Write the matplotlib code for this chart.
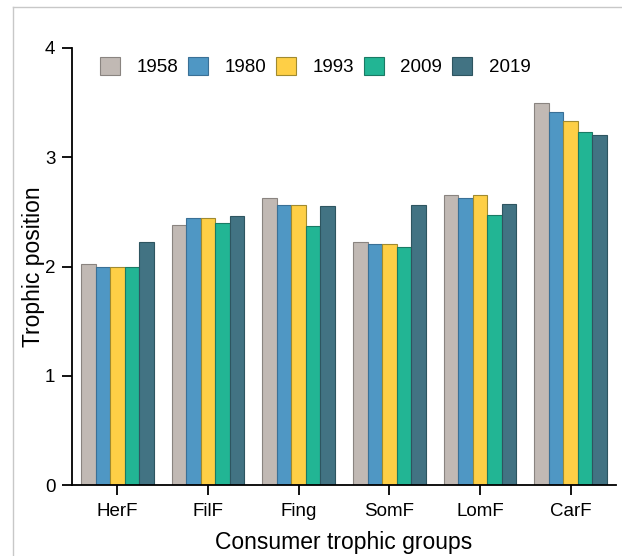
import matplotlib
matplotlib.use("Agg")
import matplotlib.pyplot as plt
import numpy as np
from matplotlib.lines import Line2D

plt.rcParams['font.family'] = ['Liberation Sans', 'DejaVu Sans']

groups = ["HerF", "FilF", "Fing", "SomF", "LomF", "CarF"]
years = ["1958", "1980", "1993", "2009", "2019"]
v1958 = [2.02, 2.38, 2.63, 2.22, 2.65, 3.50]
v1980 = [2.00, 2.44, 2.56, 2.21, 2.63, 3.41]
v1993 = [2.00, 2.44, 2.56, 2.21, 2.65, 3.33]
v2009 = [2.00, 2.40, 2.37, 2.18, 2.47, 3.23]
v2019 = [2.22, 2.46, 2.55, 2.56, 2.57, 3.20]
series = [v1958, v1980, v1993, v2009, v2019]
colors = ["#C1B9B4", "#4F97C4", "#FECF46", "#22B594", "#427383"]
edges = ["#8A8480", "#3A7096", "#A08A30", "#1A7A64", "#2E5560"]

fig = plt.figure(figsize=(6.22, 5.56), dpi=100)
ax = fig.add_axes([72/622, 1-485/556, (616-72)/622, (485-48)/556])

x = np.arange(len(groups))
w = 0.16
for i, (vals, c, ec) in enumerate(zip(series, colors, edges)):
    ax.bar(x + (i - 2) * w, vals, width=w, color=c, edgecolor=ec, linewidth=0.8,
           label=years[i], zorder=2)

ax.set_xlim(-0.5, 5.5)
ax.set_ylim(0, 4)
ax.set_yticks([0, 1, 2, 3, 4])
ax.set_xticks(x)
ax.set_xticklabels(groups)
ax.spines['top'].set_visible(False)
ax.spines['right'].set_visible(False)
for s in ['left', 'bottom']:
    ax.spines[s].set_linewidth(1.3)
ax.tick_params(axis='both', direction='out', length=7, width=1.3, labelsize=13.5, colors='black')
ax.tick_params(axis='y', pad=5)
ax.tick_params(axis='x', pad=6)
ax.set_xlabel("Consumer trophic groups", fontsize=16.5, labelpad=8)
ax.set_ylabel("Trophic position", fontsize=16.5, labelpad=0)

leg = ax.legend(loc='upper left', bbox_to_anchor=(0.03, 1.005), ncol=5, frameon=False,
                fontsize=13.5, handlelength=1.07, handleheight=1.07, handletextpad=0.9,
                columnspacing=0.5, borderaxespad=0.2)

# light gray outer frame (left and top)
fig.add_artist(Line2D([13/622, 13/622], [0, 1-7/556], transform=fig.transFigure, color='#C8C8C8', lw=1))
fig.add_artist(Line2D([13/622, 1.0], [1-7/556, 1-7/556], transform=fig.transFigure, color='#C8C8C8', lw=1))

fig.savefig("out.png", dpi=100)
